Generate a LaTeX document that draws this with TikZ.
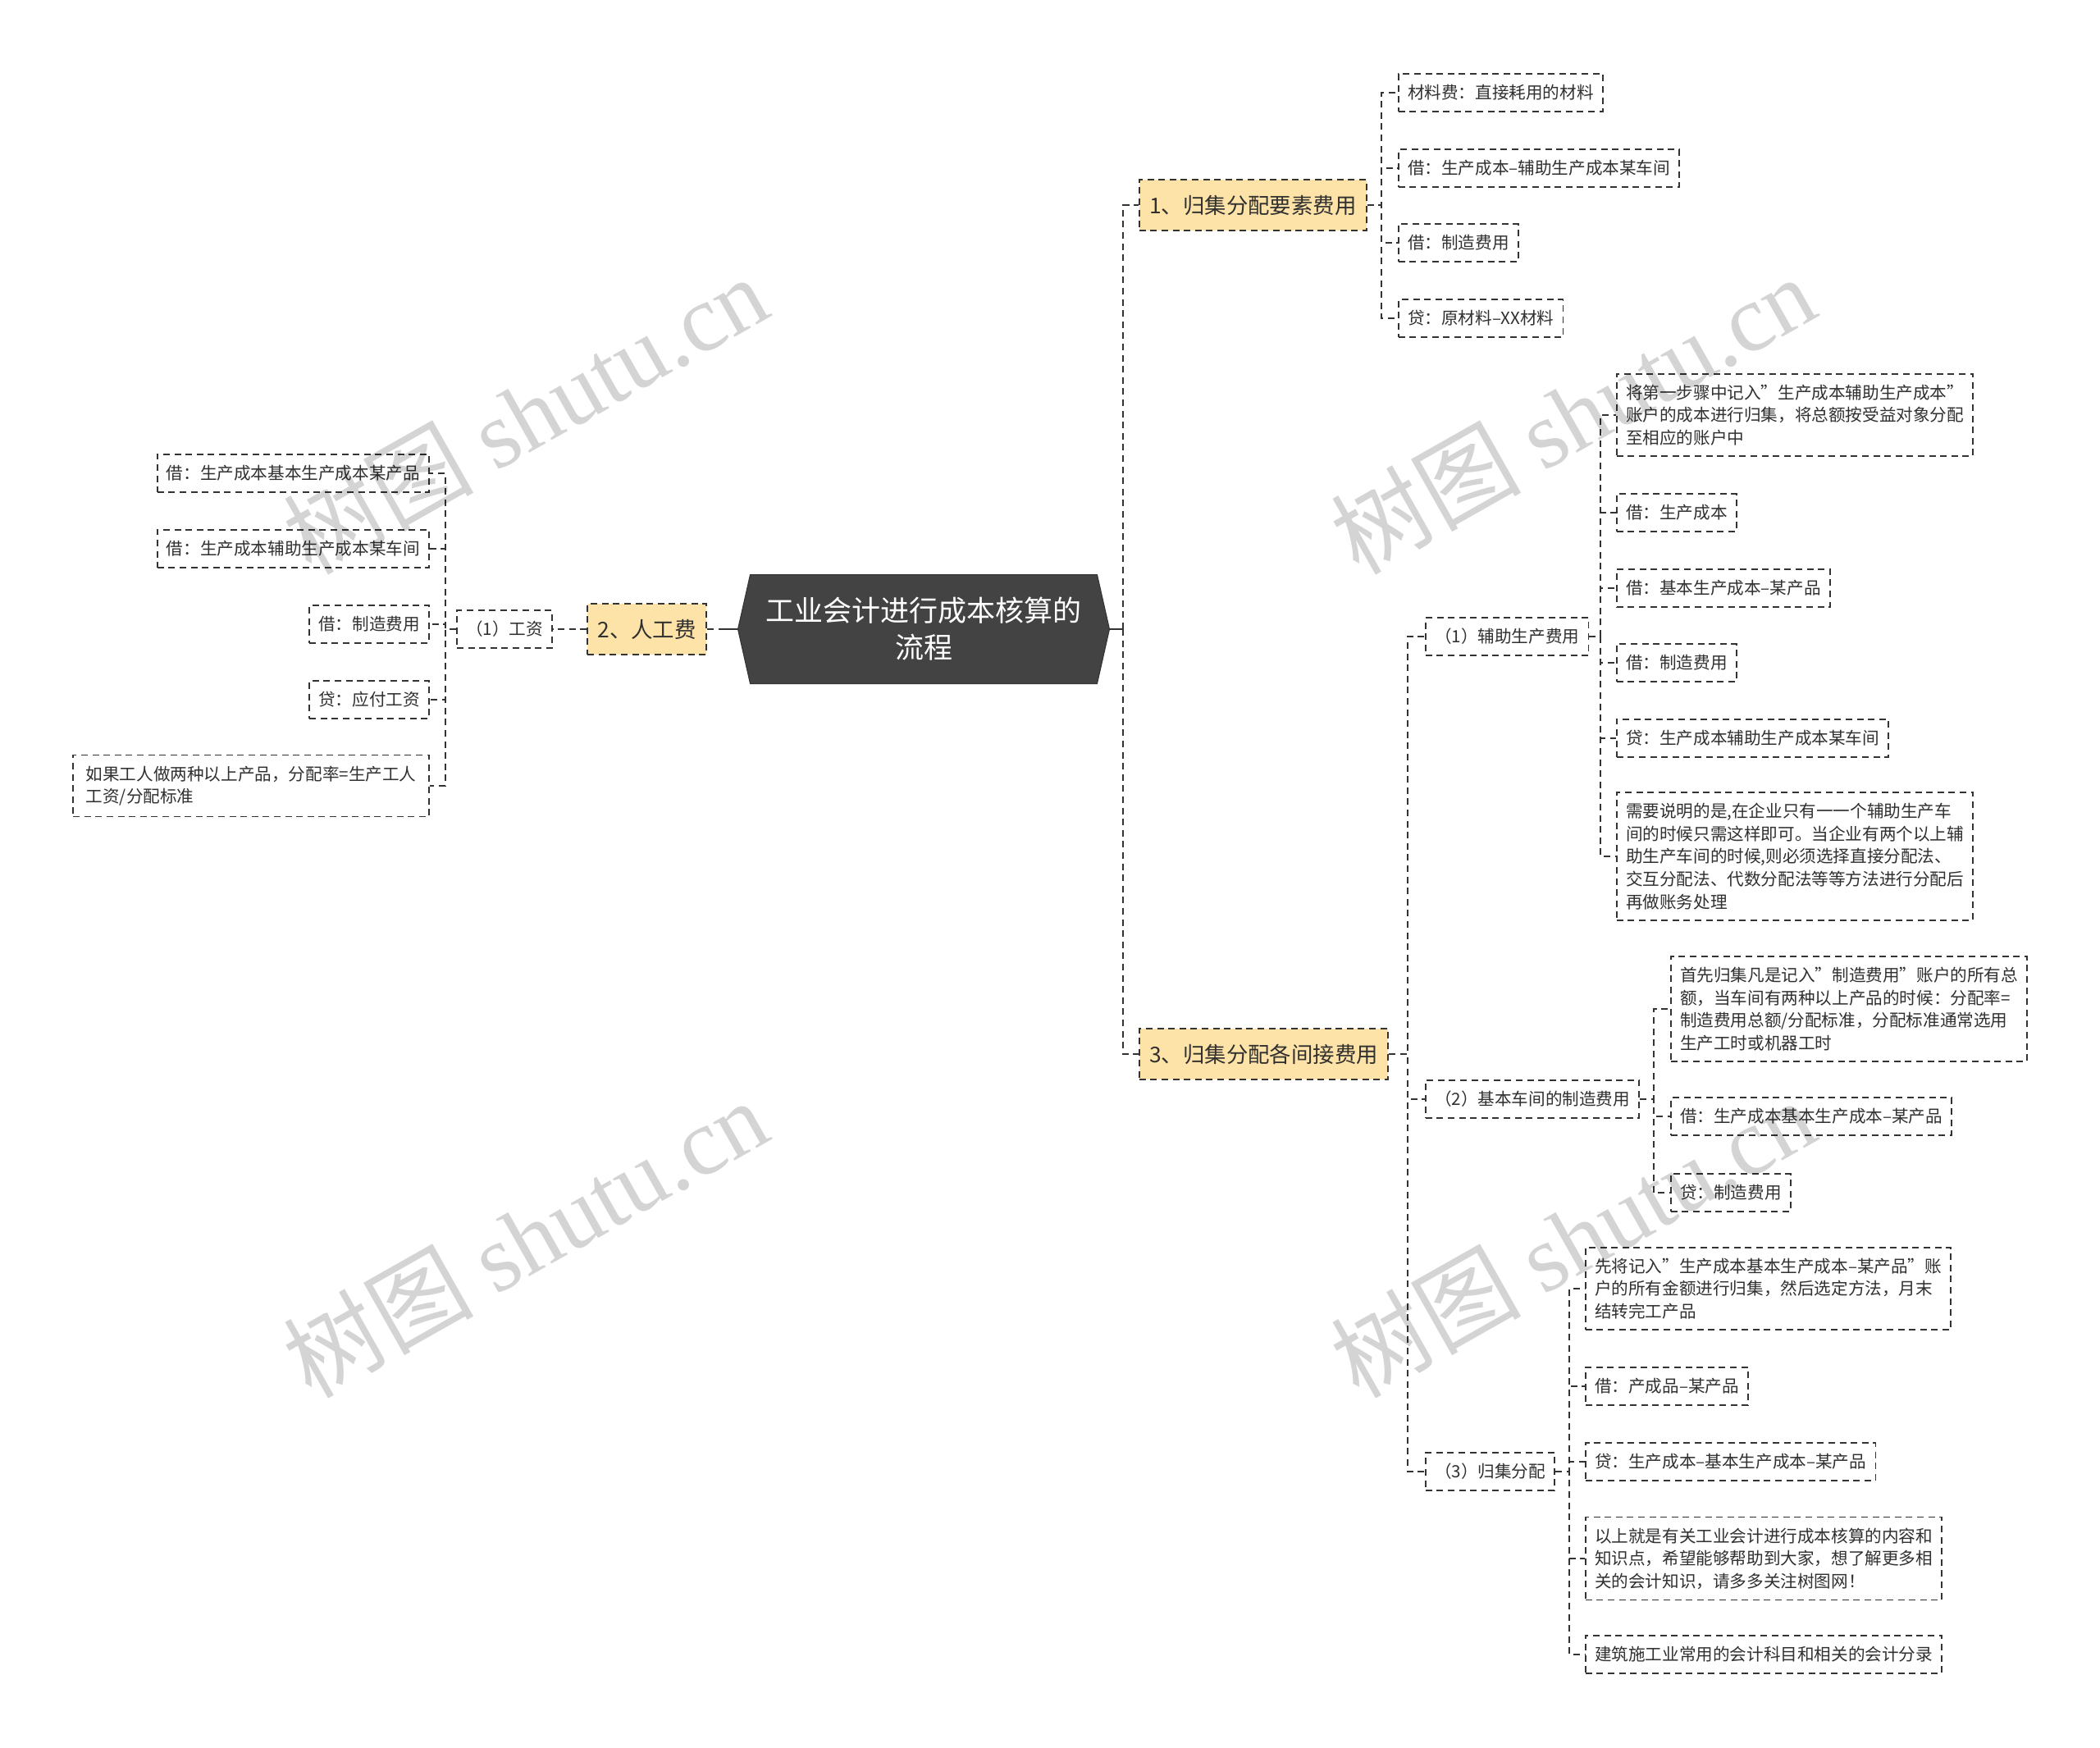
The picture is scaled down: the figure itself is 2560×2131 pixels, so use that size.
\documentclass[tikz,border=0pt]{standalone}
\usepackage{fontspec}
\setmainfont{Noto Sans CJK SC}
\newfontfamily\wmlatin{Liberation Serif}

\definecolor{edgec}{HTML}{333333}
\definecolor{branchfill}{HTML}{FEE3A8}
\definecolor{rootfill}{HTML}{434343}
\definecolor{txt}{HTML}{303030}

\tikzset{
  leaf/.style={draw=edgec, line width=0.85pt, dash pattern=on 4pt off 2.8pt,
    fill=white, font=\fontsize{10.3}{13.8}\selectfont, text=txt,
    inner xsep=5.6pt, inner ysep=6.5pt, minimum height=23pt, align=left},
  branch/.style={leaf, fill=branchfill, font=\fontsize{13.2}{16}\selectfont,
    minimum height=31pt, inner xsep=6.2pt},
  conn/.style={draw=edgec, line width=0.85pt, dash pattern=on 4pt off 2.8pt},
  stub/.style={draw=edgec, line width=0.85pt},
  rootbox/.style={minimum width=226pt, minimum height=66pt, inner sep=0pt},
  roottext/.style={text=white, align=center, font=\fontsize{17.5}{22.5}\selectfont},
  wm/.style={text=black, opacity=0.17, font=\fontsize{58}{60}\selectfont, rotate=29.5}
}

\begin{document}
\begin{tikzpicture}[x=0.5pt,y=-0.5pt]
\useasboundingbox (0,0) rectangle (2560,2131);
\fill[white] (0,0) rectangle (2560,2131);

% ---------- root ----------
\node[rootbox] (root) at (1126,767) {};
\filldraw[fill=rootfill, draw=rootfill!80!black, line width=0.6pt]
  (root.west) -- ([xshift=7.5pt]root.north west) -- ([xshift=-7.5pt]root.north east)
  -- (root.east) -- ([xshift=-7.5pt]root.south east) -- ([xshift=7.5pt]root.south west) -- cycle;
\node[roottext] (roottxt) at (root.center) {工业会计进行成本核算的\\流程};

% ---------- branch 1 ----------
\node[branch, anchor=west] (b1) at (1388,250) {1、归集分配要素费用};
\node[leaf, anchor=west] (a1) at (1704,113) {材料费：直接耗用的材料};
\node[leaf, anchor=west] (a2) at (1704,205) {借：生产成本–辅助生产成本某车间};
\node[leaf, anchor=west] (a3) at (1704,296) {借：制造费用};
\node[leaf, anchor=west] (a4) at (1704,388) {贷：原材料–XX材料};

% ---------- branch 2 (left) ----------
\node[branch, anchor=east] (b2) at (862,767) {2、人工费};
\node[leaf, anchor=east] (c1) at (674,767) {（1）工资};
\node[leaf, anchor=east] (l1) at (524,577) {借：生产成本基本生产成本某产品};
\node[leaf, anchor=east] (l2) at (524,669) {借：生产成本辅助生产成本某车间};
\node[leaf, anchor=east] (l3) at (524,761) {借：制造费用};
\node[leaf, anchor=east] (l4) at (524,853) {贷：应付工资};
\node[leaf, anchor=east, minimum width=217pt] (l5) at (524,958) {如果工人做两种以上产品，分配率=生产工人\\工资/分配标准};

% ---------- branch 3 ----------
\node[branch, anchor=west] (b3) at (1388,1285) {3、归集分配各间接费用};

\node[leaf, anchor=west] (s1) at (1737,776) {（1）辅助生产费用};
\node[leaf, anchor=west] (p1) at (1970,506) {将第一步骤中记入”生产成本辅助生产成本”\\账户的成本进行归集，将总额按受益对象分配\\至相应的账户中};
\node[leaf, anchor=west] (p2) at (1970,625) {借：生产成本};
\node[leaf, anchor=west] (p3) at (1970,717) {借：基本生产成本–某产品};
\node[leaf, anchor=west] (p4) at (1970,808) {借：制造费用};
\node[leaf, anchor=west] (p5) at (1970,900) {贷：生产成本辅助生产成本某车间};
\node[leaf, anchor=west] (p6) at (1970,1044) {需要说明的是,在企业只有一一个辅助生产车\\间的时候只需这样即可。当企业有两个以上辅\\助生产车间的时候,则必须选择直接分配法、\\交互分配法、代数分配法等等方法进行分配后\\再做账务处理};

\node[leaf, anchor=west] (s2) at (1737,1340) {（2）基本车间的制造费用};
\node[leaf, anchor=west] (q1) at (2036,1230) {首先归集凡是记入”制造费用”账户的所有总\\额，当车间有两种以上产品的时候：分配率=\\制造费用总额/分配标准，分配标准通常选用\\生产工时或机器工时};
\node[leaf, anchor=west] (q2) at (2036,1361) {借：生产成本基本生产成本–某产品};
\node[leaf, anchor=west] (q3) at (2036,1454) {贷：制造费用};

\node[leaf, anchor=west] (s3) at (1737,1794) {（3）归集分配};
\node[leaf, anchor=west] (r1) at (1932,1571) {先将记入”生产成本基本生产成本–某产品”账\\户的所有金额进行归集，然后选定方法，月末\\结转完工产品};
\node[leaf, anchor=west] (r2) at (1932,1690) {借：产成品–某产品};
\node[leaf, anchor=west] (r3) at (1932,1782) {贷：生产成本–基本生产成本–某产品};
\node[leaf, anchor=west] (r4) at (1932,1900) {以上就是有关工业会计进行成本核算的内容和\\知识点，希望能够帮助到大家，想了解更多相\\关的会计知识，请多多关注树图网！};
\node[leaf, anchor=west] (r5) at (1932,2017) {建筑施工业常用的会计科目和相关的会计分录};

% ---------- trunk coordinates ----------
\coordinate (tR) at (1369,767);
\coordinate (tL) at (880,767);
\coordinate (t1) at (1684,250);
\coordinate (t2) at (543,767);
\coordinate (t3) at (1716,1285);
\coordinate (ts1) at (1951,776);
\coordinate (ts2) at (2016,1340);
\coordinate (ts3) at (1913,1794);

% ---------- connectors ----------
\draw[conn] (tR) |- (b1.west);
\draw[conn] (tR) |- (b3.west);
\draw[stub] (root.east) -- (tR);
\draw[conn] (b2.east) -- (tL);
\draw[stub] (tL) -- (root.west);

\foreach \n in {a1,a2,a3,a4}{\draw[conn] (b1.east) -- (t1) |- (\n.west);}
\draw[conn] (b2.west) -- (c1.east);
\foreach \n in {l1,l2,l3,l4,l5}{\draw[conn] (c1.west) -- (t2) |- (\n.east);}
\foreach \n in {s1,s2,s3}{\draw[conn] (b3.east) -- (t3) |- (\n.west);}
\foreach \n in {p1,p2,p3,p4,p5,p6}{\draw[conn] (s1.east) -- (ts1) |- (\n.west);}
\foreach \n in {q1,q2,q3}{\draw[conn] (s2.east) -- (ts2) |- (\n.west);}
\foreach \n in {r1,r2,r3,r4,r5}{\draw[conn] (s3.east) -- (ts3) |- (\n.west);}

% ---------- watermarks ----------
\node[wm] (w1) at (640,505) {树图 {\wmlatin shutu.cn}};
\node[wm] (w2) at (1917,505) {树图 {\wmlatin shutu.cn}};
\node[wm] (w3) at (640,1509) {树图 {\wmlatin shutu.cn}};
\node[wm] (w4) at (1917,1509) {树图 {\wmlatin shutu.cn}};
\end{tikzpicture}
\end{document}
